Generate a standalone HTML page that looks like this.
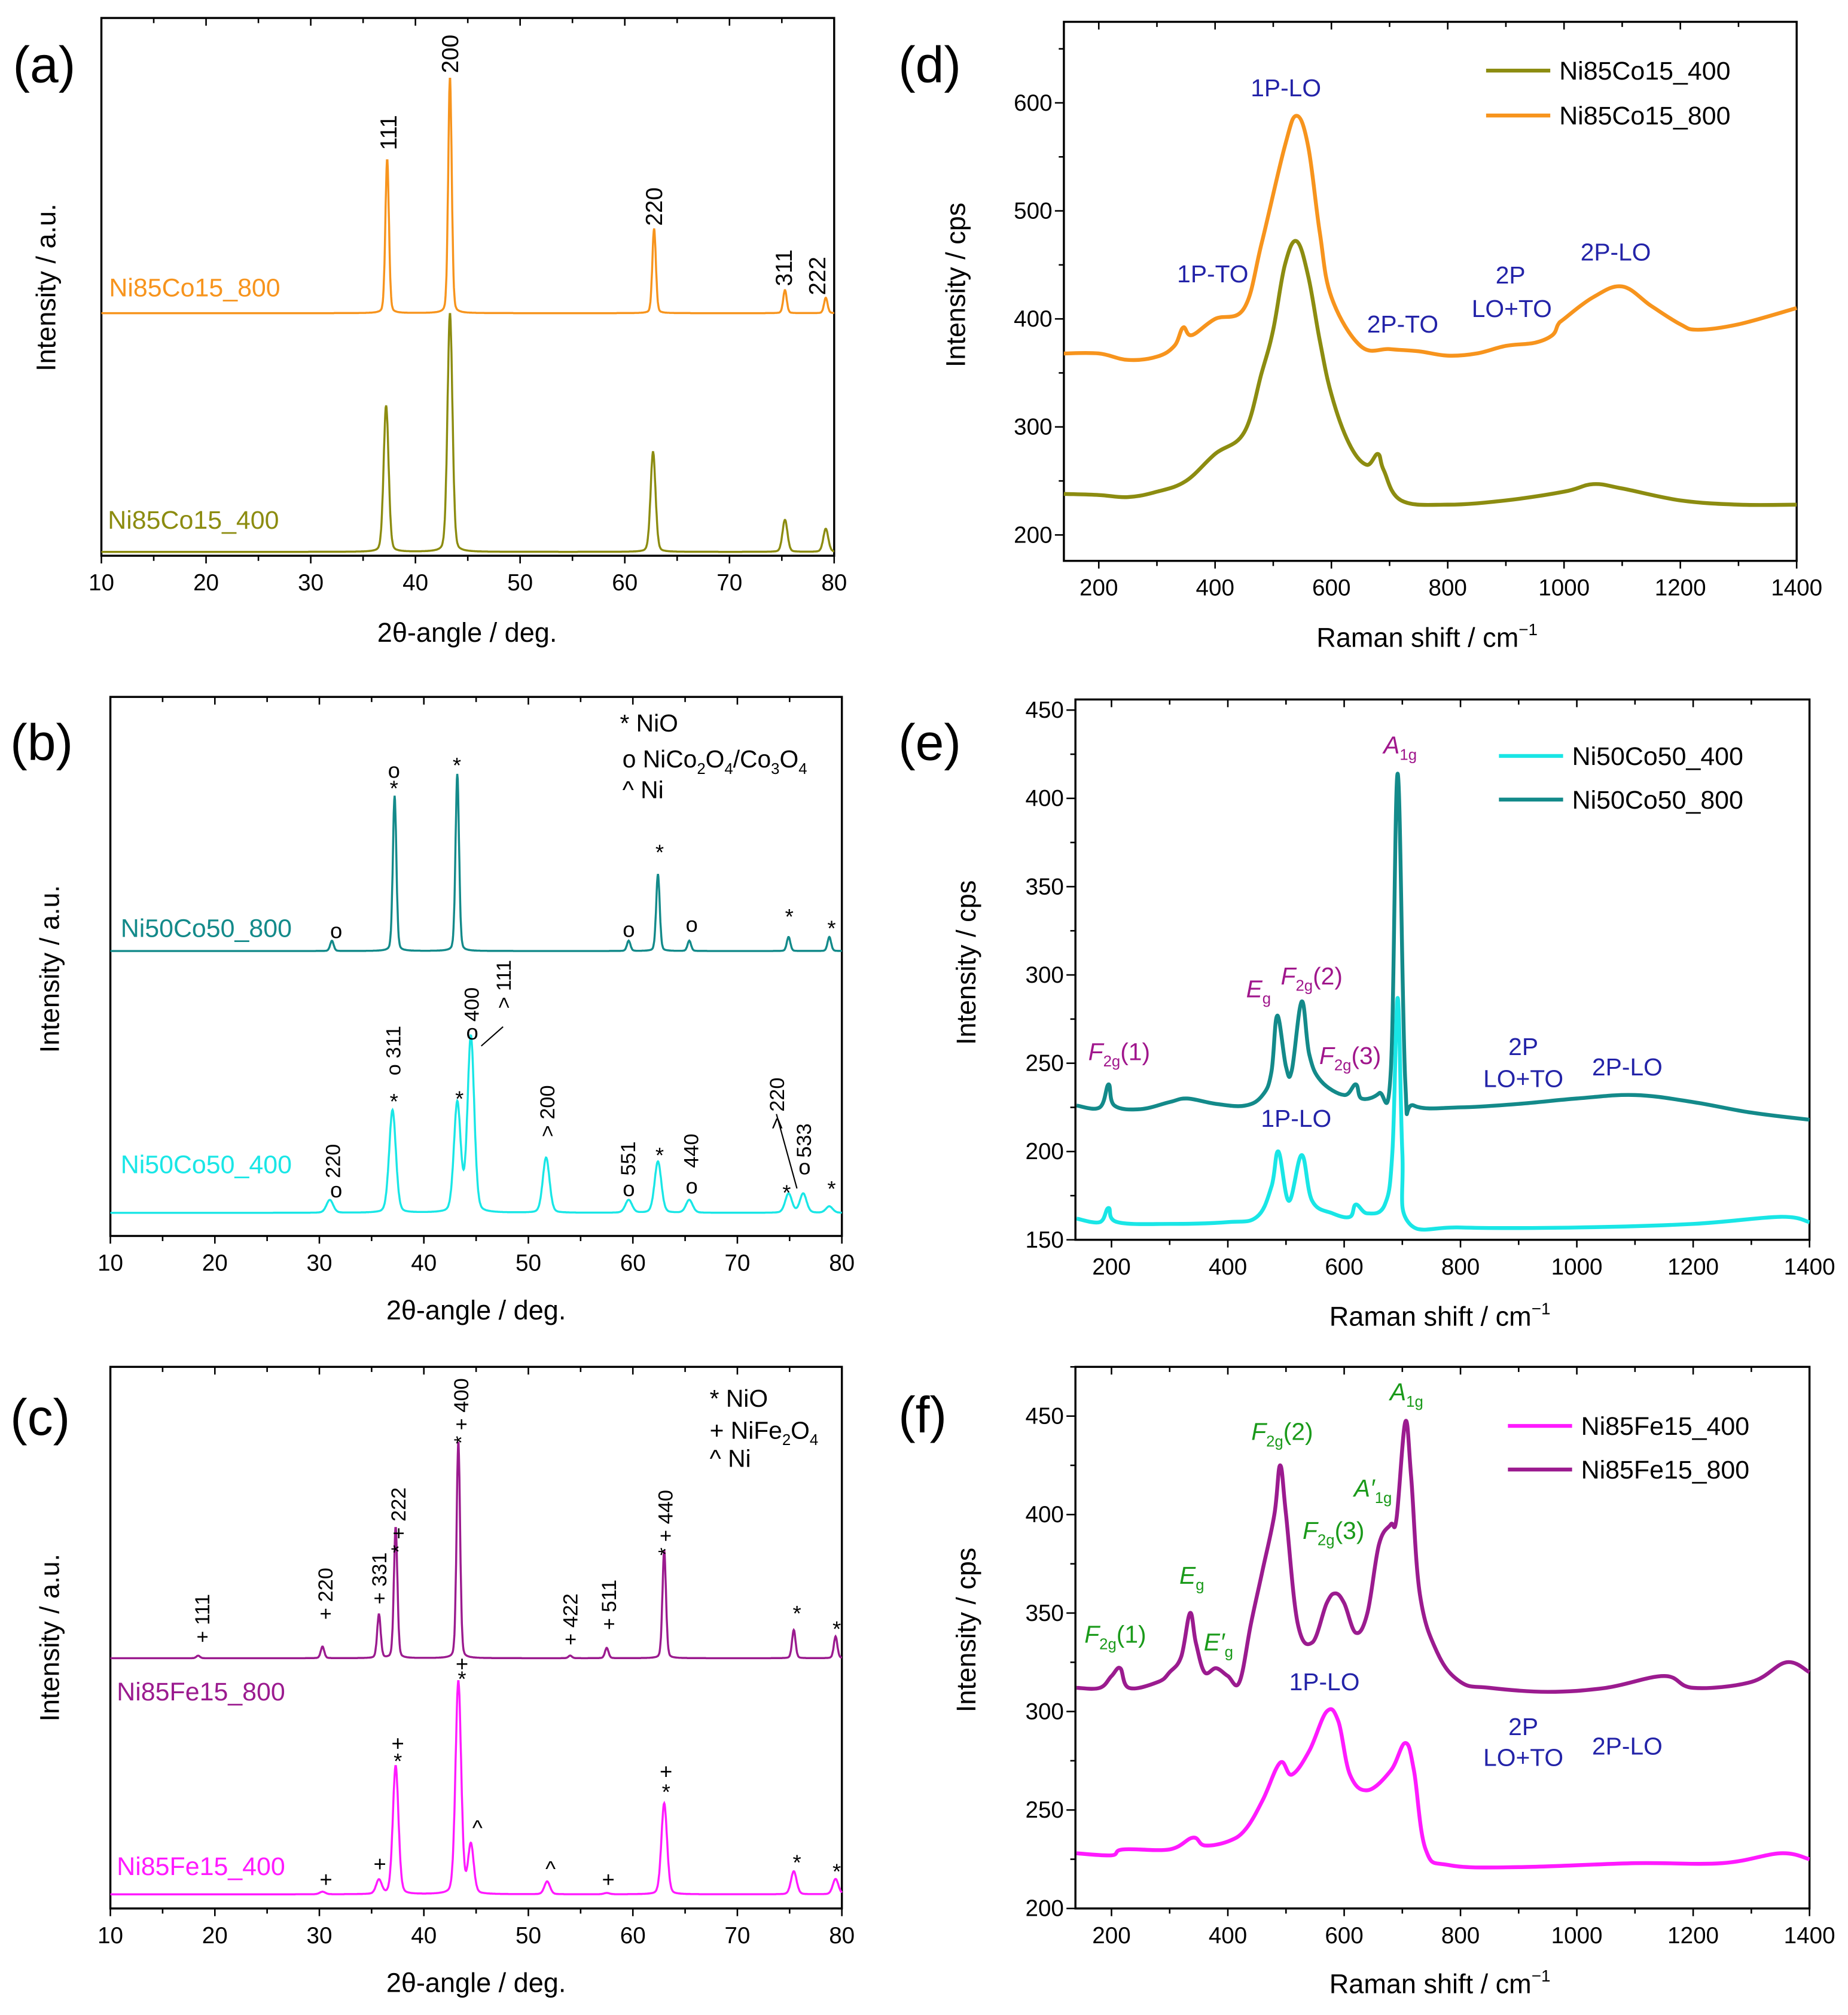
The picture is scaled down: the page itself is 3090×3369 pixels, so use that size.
<!DOCTYPE html>
<html><head><meta charset="utf-8"><style>
html,body{margin:0;padding:0;background:#fff}
svg{display:block;font-family:"Liberation Sans",sans-serif}
</style></head><body>
<svg id="fig" width="3090" height="3369" viewBox="0 0 1440 1570" xmlns="http://www.w3.org/2000/svg"></svg>
<script>
// ---------- XRD data (peak positions deg, peak heights a.u., baselines) ----------
const aPos800=[37.3,43.3,62.8,75.3,79.2];
const aTop800=[309,373,255,207,201];
const aBase800=189;
const aPos400=[37.2,43.3,62.7,75.3,79.2];
const aTop400=[117,189,81,28,21];
const aBase400=3;

const bPos800=[31.2,37.2,43.2,59.6,62.4,65.4,74.9,78.8];
const bTop800=[230,343,360,230,282,230,233,233];
const bBase800=222;
const bPos400=[31,37,43.2,44.5,51.7,59.6,62.4,65.4,74.9,76.3,78.8];
const bTop400=[28,98,103,155,61,28,58,28,33,33,23];
const bBase400=18;

const cPos800=[18.4,30.3,35.7,37.3,43.3,54,57.5,63,75.4,79.4];
const cTop800=[197,204,229,297,364,197,203,279,217,212];
const cBase800=195;
const cPos400=[30.3,35.7,37.3,43.3,44.5,51.8,57.5,63,75.4,79.4];
const cTop400=[13,22,111,177,49,21,12,82,29,23];
const cBase400=11;

// ---------- Raman data ----------
const dX800=[140,200,250,300,330,345,360,400,450,480,520,540,560,580,600,650,700,750,800,850,900,950,980,990,1000,1050,1100,1150,1200,1230,1300,1400];
const dY800=[368,368,362,365,375,392,385,400,410,470,560,588,560,480,420,375,372,370,366,368,375,378,385,395,400,420,430,412,395,390,395,410];
const dX400=[140,200,250,300,350,400,450,480,500,520,540,560,580,600,630,660,680,690,720,800,900,1000,1050,1100,1200,1300,1400];
const dY400=[238,237,235,240,250,275,295,350,390,450,472,440,380,330,285,265,275,260,232,228,232,240,247,243,232,228,228];

const eX800=[140,180,195,205,250,300,330,380,430,460,475,485,500,510,527,540,560,600,620,630,660,680,692,705,720,800,900,1000,1100,1200,1300,1400];
const eY800=[226,225,238,226,224,228,230,227,226,232,245,277,248,246,285,255,240,232,238,230,233,245,414,240,226,225,227,230,232,228,222,218];
const eX400=[140,180,195,210,300,400,450,475,487,505,527,545,580,610,620,640,670,683,692,700,710,800,1000,1200,1350,1400];
const eY400=[162,160,168,160,159,160,163,180,200,172,198,172,165,163,170,165,170,200,287,200,160,157,157,159,163,160];

const fX800=[140,180,200,215,230,280,300,320,335,345,360,380,400,420,440,460,480,490,500,520,545,570,585,600,620,640,660,680,690,705,715,730,760,800,850,950,1050,1150,1200,1300,1360,1400];
const fY800=[312,312,318,322,312,315,320,328,350,335,320,322,318,315,345,372,400,425,400,345,335,355,360,355,340,350,385,395,398,447,420,360,330,315,312,310,312,318,312,315,325,320];
const fX400=[140,200,220,300,340,360,400,430,460,490,510,540,570,590,610,640,680,705,720,740,780,900,1100,1250,1350,1400];
const fY400=[228,227,230,230,236,232,234,240,255,274,268,280,300,295,268,260,270,284,270,230,222,221,223,223,228,225];

const dTicks=[200,400,600,800,1000,1200,1400];
const dYTicks=[200,300,400,500,600];
const eYTicks=[150,200,250,300,350,400,450];
const fYTicks=[200,250,300,350,400,450];
const xrdTicks=[10,20,30,40,50,60,70,80];

const NS='http://www.w3.org/2000/svg';
const svg=document.getElementById('fig');
function mk(tag,attrs,name,parent){
  const e=document.createElementNS(NS,tag);
  for(const k in attrs) e.setAttribute(k,attrs[k]);
  
  
  (parent||svg).appendChild(e);
  return e;
}
function txt(x,y,s,opt,name){
  opt=opt||{};
  const t=mk('text',{x:x,y:y,'font-size':opt.fs||19,fill:opt.fill||'#000','text-anchor':opt.anchor||'start'},name);
  if(opt.rot) t.setAttribute('transform','rotate(-90 '+x+' '+y+')');
  if(opt.html) t.innerHTML=s; else t.textContent=s;
  return t;
}
function panel(p){
  p.sx=v=>p.x0+(v-p.xd[0])/(p.xd[1]-p.xd[0])*(p.x1-p.x0);
  p.sy=v=>p.y1-(v-p.yd[0])/(p.yd[1]-p.yd[0])*(p.y1-p.y0);
  const g=mk('g',{},p.name);
  p.g=g;
  return p;
}
function frame(p,xt,xminor,yt,yminor){
  mk('rect',{x:p.x0,y:p.y0,width:p.x1-p.x0,height:p.y1-p.y0,fill:'none',stroke:'#000','stroke-width':1.6},p.name+'-frame',p.g);
  for(let v=p.xd[0]-(p.xd[0]%xminor);v<=p.xd[1];v+=xminor){
    if(v<p.xd[0])continue;
    const X=p.sx(v), major=xt.includes(v);
    mk('line',{x1:X,x2:X,y1:p.y1,y2:p.y1+(major?6:4),stroke:'#000','stroke-width':1.2},'x-tick',p.g);
    mk('line',{x1:X,x2:X,y1:p.y0,y2:p.y0+(major?6:4),stroke:'#000','stroke-width':1.2},'x-tick-top',p.g);
  }
  xt.forEach(v=>txt(p.sx(v),p.y1+27,String(v),{anchor:'middle',fs:18},'x-tick-label'));
  if(yt){
    for(let v=p.yd[0]-(p.yd[0]%yminor);v<=p.yd[1];v+=yminor){
      if(v<p.yd[0])continue;
      const Y=p.sy(v), major=yt.includes(v);
      mk('line',{x1:p.x0-(major?7:4),x2:p.x0,y1:Y,y2:Y,stroke:'#000','stroke-width':1.2},'y-tick',p.g);
    }
    yt.forEach(v=>txt(p.x0-9,p.sy(v)+6,String(v),{anchor:'end',fs:18},'y-tick-label'));
  }
}
function xrdLine(p,pos,top,base,w,color,name){
  let d='';
  for(let x=p.xd[0];x<=p.xd[1]+1e-9;x+=0.04){
    let y=base;
    for(let i=0;i<pos.length;i++){const u=(x-pos[i])/w;y+=(top[i]-base)*(0.8*Math.exp(-u*u*0.693)+0.2/(1+u*u));}
    d+=(d?'L':'M')+p.sx(x).toFixed(1)+' '+p.sy(y).toFixed(1);
  }
  mk('path',{d:d,fill:'none',stroke:color,'stroke-width':1.6},name,p.g);
}
function ramanLine(p,xs,ys,color,name){
  const P=xs.map((x,i)=>[Math.max(p.x0,Math.min(p.x1,p.sx(x))),p.sy(ys[i])]);
  let d='M'+P[0][0].toFixed(1)+' '+P[0][1].toFixed(1);
  for(let i=0;i<P.length-1;i++){
    const p0=P[Math.max(0,i-1)],p1=P[i],p2=P[i+1],p3=P[Math.min(P.length-1,i+2)];
    const t=0.18;
    const c1=[p1[0]+(p2[0]-p0[0])*t,p1[1]+(p2[1]-p0[1])*t];
    const c2=[p2[0]-(p3[0]-p1[0])*t,p2[1]-(p3[1]-p1[1])*t];
    d+='C'+c1[0].toFixed(1)+' '+c1[1].toFixed(1)+' '+c2[0].toFixed(1)+' '+c2[1].toFixed(1)+' '+p2[0].toFixed(1)+' '+p2[1].toFixed(1);
  }
  mk('path',{d:d,fill:'none',stroke:color,'stroke-width':3,'stroke-linejoin':'round'},name,p.g);
}
function legend(x,y,color,label,name){
  mk('line',{x1:x,x2:x+50,y1:y,y2:y,stroke:color,'stroke-width':3},name+'-swatch');
  txt(x+57,y+7,label,{fs:20},name);
}
const SUB=(b,s,t)=>'<tspan font-style="italic">'+b+'</tspan><tspan font-size="12" dy="5">'+s+'</tspan><tspan dy="-5">'+(t||'')+'</tspan>';

// ---------- (a) ----------
const A=panel({name:'panel-a',x0:79,x1:650,y0:14,y1:433,xd:[10,80],yd:[0,419]});
frame(A,xrdTicks,5);
xrdLine(A,aPos800,aTop800,aBase800,0.2,'#f7941d','series-ni85co15-800');
xrdLine(A,aPos400,aTop400,aBase400,0.28,'#8c8c10','series-ni85co15-400');
txt(10,64,'(a)',{fs:40},'panel-label-a');
txt(43,224,'Intensity / a.u.',{fs:21,rot:true,anchor:'middle'},'y-axis-title-a');
txt(364,500,'2θ-angle / deg.',{fs:21,anchor:'middle'},'x-axis-title-a');
txt(85,231,'Ni85Co15_800',{fs:20,fill:'#f7941d'},'label-ni85co15-800');
txt(84,412,'Ni85Co15_400',{fs:20,fill:'#8c8c10'},'label-ni85co15-400');
[[309,117,'111'],[357,57,'200'],[516,176,'220'],[617,223,'311'],[643,230,'222']].forEach(a=>txt(a[0],a[1],a[2],{fs:18,rot:true},'peak-label'));

// ---------- (b) ----------
const B=panel({name:'panel-b',x0:86,x1:656,y0:543,y1:963,xd:[10,80],yd:[0,420]});
frame(B,xrdTicks,5);
xrdLine(B,bPos800,bTop800,bBase800,0.2,'#138a8a','series-ni50co50-800');
xrdLine(B,bPos400,bTop400,bBase400,0.38,'#19e6e6','series-ni50co50-400');
txt(8,592,'(b)',{fs:40},'panel-label-b');
txt(46,755,'Intensity / a.u.',{fs:21,rot:true,anchor:'middle'},'y-axis-title-b');
txt(371,1028,'2θ-angle / deg.',{fs:21,anchor:'middle'},'x-axis-title-b');
txt(94,730,'Ni50Co50_800',{fs:20,fill:'#138a8a'},'label-ni50co50-800');
txt(94,914,'Ni50Co50_400',{fs:20,fill:'#19e6e6'},'label-ni50co50-400');
txt(483,570,'* NiO',{fs:19},'legend-nio-b');
txt(485,598,'o NiCo<tspan font-size="12" dy="5">2</tspan><tspan dy="-5">O</tspan><tspan font-size="12" dy="5">4</tspan><tspan dy="-5">/Co</tspan><tspan font-size="12" dy="5">3</tspan><tspan dy="-5">O</tspan><tspan font-size="12" dy="5">4</tspan>',{fs:19,html:true},'legend-spinel-b');
txt(485,622,'^ Ni',{fs:19},'legend-ni-b');
[[262,731,'o'],[307,620,'*'],[307,606,'o'],[356,602,'*'],[490,730,'o'],[514,670,'*'],[539,726,'o'],[615,720,'*'],[648,729,'*'],
 [262,933,'o'],[307,864,'*'],[358,862,'*'],[368,810,'o'],[490,932,'o'],[514,906,'*'],[539,930,'o'],[613,935,'*'],[627,915,'o'],[648,932,'*']].forEach(a=>txt(a[0],a[1],a[2],{fs:17,anchor:'middle'},'phase-marker'));
[[265,918,'220'],[312,838,'o 311'],[373,796,'400'],[398,786,'> 111'],[432,886,'> 200'],[495,916,'551'],[544,910,'440'],[611,880,'> 220'],[632,902,'533']].forEach(a=>txt(a[0],a[1],a[2],{fs:16,rot:true},'peak-label'));
mk('line',{x1:375,y1:815,x2:392,y2:800,stroke:'#000','stroke-width':1},'leader-line');
mk('line',{x1:605,y1:868,x2:621,y2:926,stroke:'#000','stroke-width':1},'leader-line');

// ---------- (c) ----------
const C=panel({name:'panel-c',x0:86,x1:656,y0:1065,y1:1487,xd:[10,80],yd:[0,422]});
frame(C,xrdTicks,5);
xrdLine(C,cPos800,cTop800,cBase800,0.2,'#9b1b8f','series-ni85fe15-800');
xrdLine(C,cPos400,cTop400,cBase400,0.32,'#ff1aff','series-ni85fe15-400');
txt(8,1118,'(c)',{fs:40},'panel-label-c');
txt(46,1276,'Intensity / a.u.',{fs:21,rot:true,anchor:'middle'},'y-axis-title-c');
txt(371,1552,'2θ-angle / deg.',{fs:21,anchor:'middle'},'x-axis-title-c');
txt(91,1325,'Ni85Fe15_800',{fs:20,fill:'#9b1b8f'},'label-ni85fe15-800');
txt(91,1461,'Ni85Fe15_400',{fs:20,fill:'#ff1aff'},'label-ni85fe15-400');
txt(553,1096,'* NiO',{fs:19},'legend-nio-c');
txt(553,1121,'+ NiFe<tspan font-size="12" dy="5">2</tspan><tspan dy="-5">O</tspan><tspan font-size="12" dy="5">4</tspan>',{fs:19,html:true},'legend-nife2o4-c');
txt(553,1143,'^ Ni',{fs:19},'legend-ni-c');
[[163,1280,'+ 111'],[259,1262,'+ 220'],[301,1250,'+ 331'],[316,1210,'* + 222'],[365,1125,'* + 400'],[450,1282,'+ 422'],[480,1270,'+ 511'],[524,1212,'* + 440']].forEach(a=>txt(a[0],a[1],a[2],{fs:16,rot:true},'peak-label'));
[[621,1263,'*'],[652,1275,'*'],[254,1470,'+'],[296,1458,'+'],[310,1364,'+'],[310,1378,'*'],[360,1302,'+'],[360,1314,'*'],[372,1430,'^'],[429,1462,'^'],[474,1470,'+'],[519,1386,'+'],[519,1402,'*'],[621,1457,'*'],[652,1464,'*']].forEach(a=>txt(a[0],a[1],a[2],{fs:17,anchor:'middle'},'phase-marker'));

// ---------- (d) ----------
const D=panel({name:'panel-d',x0:829,x1:1400,y0:17,y1:437,xd:[140,1400],yd:[176,675]});
frame(D,dTicks,100,dYTicks,50);
ramanLine(D,dX400,dY400,'#8c8c10','series-ni85co15-400-raman');
ramanLine(D,dX800,dY800,'#f7941d','series-ni85co15-800-raman');
txt(700,64,'(d)',{fs:40},'panel-label-d');
txt(752,222,'Intensity / cps',{fs:21,rot:true,anchor:'middle'},'y-axis-title-d');
txt(1112,504,'Raman shift / cm<tspan font-size="13" dy="-9">−1</tspan>',{fs:21,anchor:'middle',html:true},'x-axis-title-d');
legend(1158,55,'#8c8c10','Ni85Co15_400','legend-ni85co15-400');
legend(1158,90,'#f7941d','Ni85Co15_800','legend-ni85co15-800');
[[1002,75,'1P-LO'],[945,220,'1P-TO'],[1093,259,'2P-TO'],[1177,221,'2P'],[1178,247,'LO+TO'],[1259,203,'2P-LO']].forEach(a=>txt(a[0],a[1],a[2],{fs:19,fill:'#2323a8',anchor:'middle'},'mode-label'));

// ---------- (e) ----------
const E=panel({name:'panel-e',x0:838,x1:1410,y0:545,y1:966,xd:[138,1400],yd:[150,456]});
frame(E,dTicks,100,eYTicks,25);
ramanLine(E,eX400,eY400,'#19e6e6','series-ni50co50-400-raman');
ramanLine(E,eX800,eY800,'#138a8a','series-ni50co50-800-raman');
txt(700,592,'(e)',{fs:40},'panel-label-e');
txt(760,750,'Intensity / cps',{fs:21,rot:true,anchor:'middle'},'y-axis-title-e');
txt(1122,1033,'Raman shift / cm<tspan font-size="13" dy="-9">−1</tspan>',{fs:21,anchor:'middle',html:true},'x-axis-title-e');
legend(1168,589,'#19e6e6','Ni50Co50_400','legend-ni50co50-400');
legend(1168,623,'#138a8a','Ni50Co50_800','legend-ni50co50-800');
const PU='#a0168c';
txt(848,826,SUB('F','2g','(1)'),{fs:19,fill:PU,html:true},'mode-label');
txt(971,777,SUB('E','g'),{fs:19,fill:PU,html:true},'mode-label');
txt(998,767,SUB('F','2g','(2)'),{fs:19,fill:PU,html:true},'mode-label');
txt(1028,829,SUB('F','2g','(3)'),{fs:19,fill:PU,html:true},'mode-label');
txt(1078,587,SUB('A','1g'),{fs:19,fill:PU,html:true},'mode-label');
[[1010,878,'1P-LO'],[1187,822,'2P'],[1187,847,'LO+TO'],[1268,838,'2P-LO']].forEach(a=>txt(a[0],a[1],a[2],{fs:19,fill:'#2323a8',anchor:'middle'},'mode-label'));

// ---------- (f) ----------
const F=panel({name:'panel-f',x0:838,x1:1410,y0:1065,y1:1487,xd:[138,1400],yd:[200,475]});
frame(F,dTicks,100,fYTicks,25);
ramanLine(F,fX400,fY400,'#ff1aff','series-ni85fe15-400-raman');
ramanLine(F,fX800,fY800,'#9b1b8f','series-ni85fe15-800-raman');
txt(700,1116,'(f)',{fs:40},'panel-label-f');
txt(760,1270,'Intensity / cps',{fs:21,rot:true,anchor:'middle'},'y-axis-title-f');
txt(1122,1553,'Raman shift / cm<tspan font-size="13" dy="-9">−1</tspan>',{fs:21,anchor:'middle',html:true},'x-axis-title-f');
legend(1175,1111,'#ff1aff','Ni85Fe15_400','legend-ni85fe15-400');
legend(1175,1145,'#9b1b8f','Ni85Fe15_800','legend-ni85fe15-800');
const GR='#1a9a1a';
txt(845,1280,SUB('F','2g','(1)'),{fs:19,fill:GR,html:true},'mode-label');
txt(919,1234,SUB('E','g'),{fs:19,fill:GR,html:true},'mode-label');
txt(938,1286,SUB('E′','g'),{fs:19,fill:GR,html:true},'mode-label');
txt(975,1122,SUB('F','2g','(2)'),{fs:19,fill:GR,html:true},'mode-label');
txt(1015,1199,SUB('F','2g','(3)'),{fs:19,fill:GR,html:true},'mode-label');
txt(1055,1166,SUB('A′','1g'),{fs:19,fill:GR,html:true},'mode-label');
txt(1083,1091,SUB('A','1g'),{fs:19,fill:GR,html:true},'mode-label');
[[1032,1317,'1P-LO'],[1187,1352,'2P'],[1187,1376,'LO+TO'],[1268,1367,'2P-LO']].forEach(a=>txt(a[0],a[1],a[2],{fs:19,fill:'#2323a8',anchor:'middle'},'mode-label'));
</script>
</body></html>
